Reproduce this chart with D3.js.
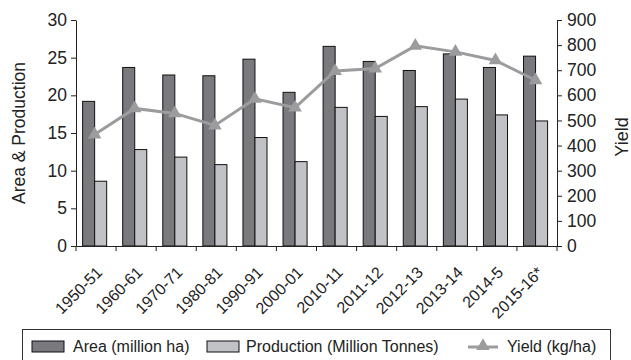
<!DOCTYPE html>
<html><head><meta charset="utf-8">
<script src="https://cdn.jsdelivr.net/npm/d3@7/dist/d3.min.js"></script>
<style>
body{margin:0;background:#fff;}
svg text{font-family:"Liberation Sans",Arial,Helvetica,sans-serif;fill:#222;}
</style></head>
<body><svg id="c" width="631" height="360"></svg>
<script>
const categories = ["1950-51","1960-61","1970-71","1980-81","1990-91","2000-01","2010-11","2011-12","2012-13","2013-14","2014-5","2015-16*"];
const area = [19.2, 23.7, 22.7, 22.6, 24.8, 20.4, 26.5, 24.5, 23.3, 25.5, 23.7, 25.2];
const production = [8.6, 12.8, 11.8, 10.8, 14.4, 11.2, 18.4, 17.2, 18.5, 19.5, 17.4, 16.6];
const yieldVals = [444, 548, 528, 480, 586, 551, 697, 707, 797, 773, 739, 660];
const leftTicks = [0,5,10,15,20,25,30];
const rightTicks = [0,100,200,300,400,500,600,700,800,900];
const seriesNames = ["Area (million ha)","Production (Million Tonnes)","Yield (kg/ha)"];

const svg = d3.select("#c");
const L = 76, R = 557, T = 20, B = 246;
const darkFill = "#7a7a7e", lightFill = "#c1c2c5", lineCol = "#9c9c9e", ink = "#222";

const x = d3.scaleBand().domain(categories).range([L, R]).padding(0);
const x1 = d3.scaleBand().domain(["area","prod"]).range([x.bandwidth()*0.165, x.bandwidth()*0.765]).padding(0);
const yL = d3.scaleLinear().domain([0,30]).range([B, T]);
const yR = d3.scaleLinear().domain([0,900]).range([B, T]);

// bars
const g = svg.append("g");
categories.forEach((c,i)=>{
  g.append("rect").attr("x", x(c)+x1("area")).attr("y", yL(area[i]))
    .attr("width", x1.bandwidth()).attr("height", B - yL(area[i]))
    .attr("fill", darkFill).attr("stroke", "#111").attr("stroke-width", 1);
  g.append("rect").attr("x", x(c)+x1("prod")).attr("y", yL(production[i]))
    .attr("width", x1.bandwidth()).attr("height", B - yL(production[i]))
    .attr("fill", lightFill).attr("stroke", "#111").attr("stroke-width", 1);
});

// line
const cx = c => x(c) + x.bandwidth()*0.465;
const line = d3.line().x((d,i)=>cx(categories[i])).y(d=>yR(d));
svg.append("path").datum(yieldVals).attr("d", line).attr("fill","none")
  .attr("stroke", lineCol).attr("stroke-width", 3);
const tri = d3.symbol().type(d3.symbolTriangle).size(80);
yieldVals.forEach((v,i)=>{
  svg.append("path").attr("d", tri()).attr("transform", `translate(${cx(categories[i])},${yR(v)})`)
    .attr("fill", lineCol);
});

// axes
const axL = svg.append("g").attr("transform", `translate(${L},0)`)
  .call(d3.axisLeft(yL).tickValues(leftTicks).tickSize(5).tickPadding(4).tickSizeOuter(0));
const axR = svg.append("g").attr("transform", `translate(${R},0)`)
  .call(d3.axisRight(yR).tickValues(rightTicks).tickSize(5).tickPadding(5).tickSizeOuter(0));
const axX = svg.append("g").attr("transform", `translate(0,${B})`)
  .call(d3.axisBottom(x).tickSize(0).tickSizeOuter(0));
[axL, axR].forEach(a=>{
  a.selectAll("text").attr("font-size", 17.5).attr("fill", ink);
  a.selectAll("line,path").attr("stroke", ink);
});
axX.select(".domain").attr("stroke", ink);
axX.selectAll(".tick text")
  .attr("font-size", 16).attr("fill", ink)
  .attr("text-anchor","end")
  .attr("transform", "translate(-5,22) rotate(-45)")
  .attr("dx","0.3em").attr("dy","0.6em");
// boundary ticks
const bounds = categories.map(c=>x(c)).concat([R]);
svg.append("g").selectAll("line").data(bounds).join("line")
  .attr("x1", d=>d).attr("x2", d=>d).attr("y1", B).attr("y2", B+5).attr("stroke", ink);

// axis titles
svg.append("text").attr("transform", "translate(25,133) rotate(-90)")
  .attr("text-anchor","middle").attr("font-size", 17.5).text("Area & Production");
svg.append("text").attr("transform", "translate(628,137) rotate(-90)")
  .attr("text-anchor","middle").attr("font-size", 18).text("Yield");

// legend
const lg = svg.append("g");
lg.append("rect").attr("x", 22.5).attr("y", 329.5).attr("width", 588).attr("height", 40)
  .attr("fill","#fff").attr("stroke","#333");
lg.append("rect").attr("x", 32).attr("y", 341).attr("width", 32).attr("height", 11)
  .attr("fill", darkFill).attr("stroke","#111");
lg.append("text").attr("x", 73).attr("y", 352).attr("font-size", 16).text(seriesNames[0]);
lg.append("rect").attr("x", 207).attr("y", 341).attr("width", 32).attr("height", 11)
  .attr("fill", lightFill).attr("stroke","#111");
lg.append("text").attr("x", 246).attr("y", 352).attr("font-size", 16).text(seriesNames[1]);
lg.append("line").attr("x1", 468).attr("x2", 498).attr("y1", 347).attr("y2", 347)
  .attr("stroke", lineCol).attr("stroke-width", 3);
lg.append("path").attr("d", tri()).attr("transform","translate(483,346)").attr("fill", lineCol);
lg.append("text").attr("x", 507).attr("y", 352).attr("font-size", 16).text(seriesNames[2]);
</script></body></html>
